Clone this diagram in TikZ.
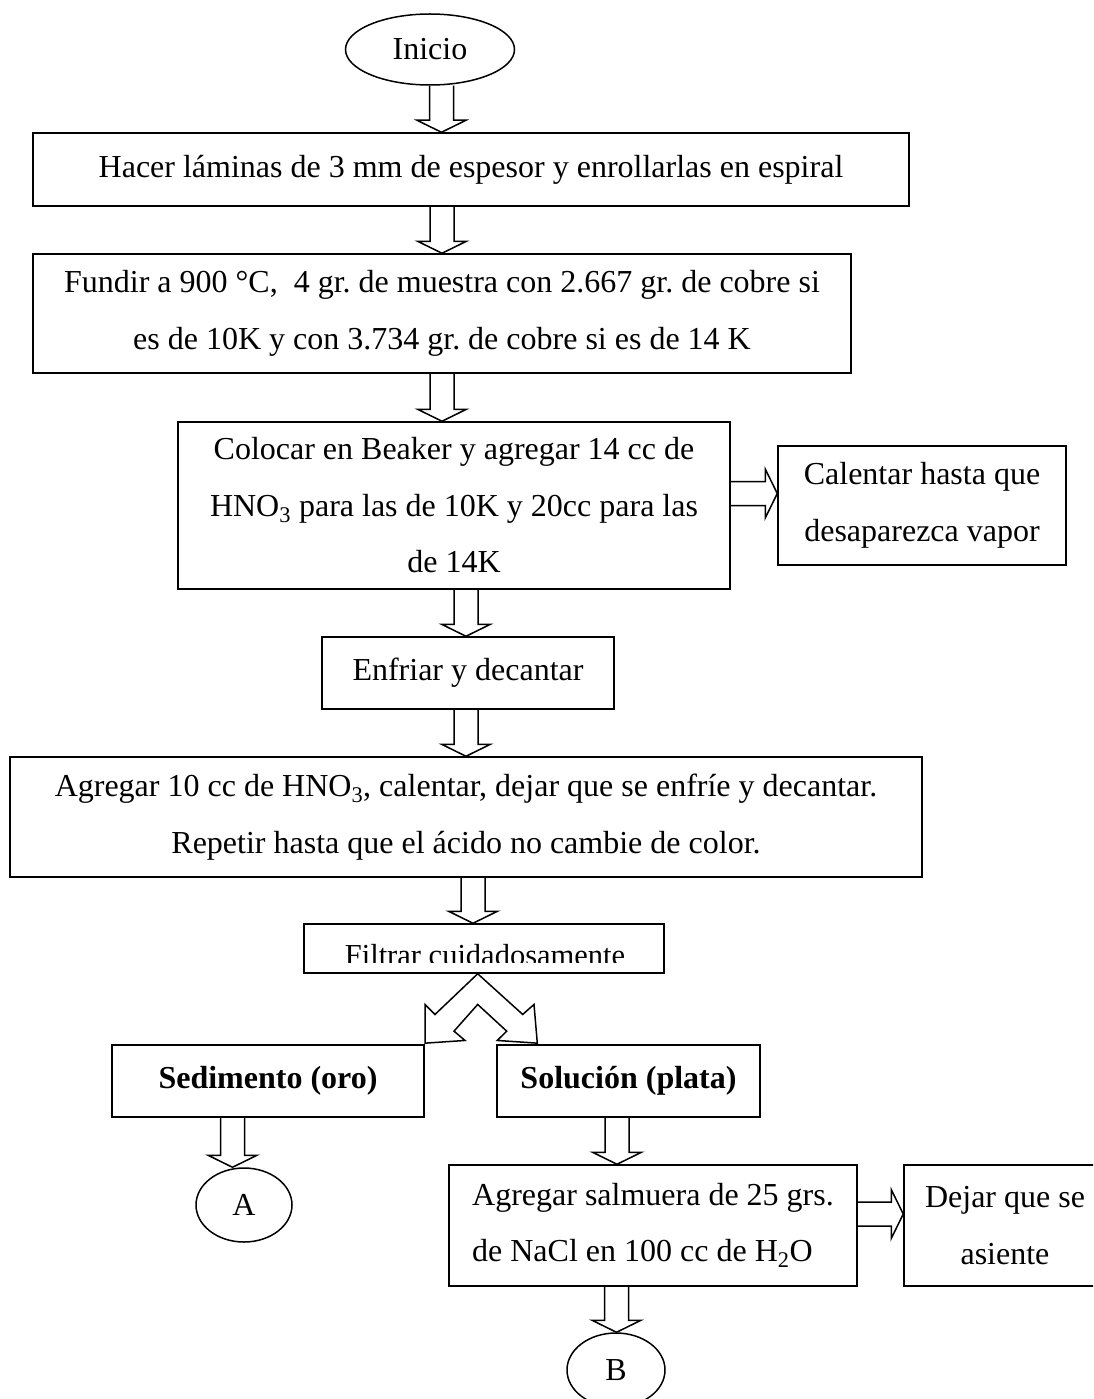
\documentclass[tikz,border=0pt]{standalone}
\usepackage{fontspec}
\setmainfont{Liberation Serif}
\usetikzlibrary{shapes.geometric,calc}
\frenchspacing
\begin{document}
\begin{tikzpicture}[x=1pt,y=-1pt,line join=miter,font=\fontsize{32}{56.5}\selectfont,
	box/.style={draw,line width=1.5pt,rectangle,inner sep=0pt,align=center},
	oval/.style={draw,line width=1.5pt,ellipse,inner sep=0pt},
	fat/.style={draw,line width=1.5pt}]
	\useasboundingbox (0,0) rectangle (1093,1399);
	\clip (0,0) rectangle (1093,1399);
	\node[oval,minimum width=169pt,minimum height=71pt] (ini) at (430,49.5) {Inicio};
	\node[box,minimum width=876pt,minimum height=73pt] (hacer) at (471,169.5) {Hacer láminas de 3 mm de espesor y enrollarlas en espiral};
	\node[box,minimum width=818pt,minimum height=119pt] (fundir) at (442,313.5) {Fundir a 900 °C,~ 4 gr. de muestra con 2.667 gr. de cobre si\\es de 10K y con 3.734 gr. de cobre si es de 14 K};
	\node[box,minimum width=552pt,minimum height=167pt] (colocar) at (454,505.5) {Colocar en Beaker y agregar 14 cc de\\HNO\textsubscript{3} para las de 10K y 20cc para las\\de 14K};
	\node[box,minimum width=288pt,minimum height=119pt] (calentar) at (922,505.5) {Calentar hasta que\\desaparezca vapor};
	\node[box,minimum width=292pt,minimum height=72pt] (enfriar) at (468,673) {Enfriar y decantar};
	\node[box,minimum width=912pt,minimum height=120pt] (agregar) at (466,817) {Agregar 10 cc de HNO\textsubscript{3}, calentar, dejar que se enfríe y decantar.\\Repetir hasta que el ácido no cambie de color.};
	\node[box,minimum width=360pt,minimum height=49pt] (filtrar) at (484,948.5) {};
	\begin{scope}
		\clip (filtrar.north west) rectangle (filtrar.east |- 0,962);
		\node[font=\fontsize{30.5}{36}\selectfont,anchor=base] (filtrartxt) at (485,965) {Filtrar cuidadosamente};
	\end{scope}
	\node[box,minimum width=312pt,minimum height=72pt] (sed) at (268,1081) {\textbf{Sedimento (oro)}};
	\node[box,minimum width=263pt,minimum height=72pt] (sol) at (628.5,1081) {\textbf{Solución (plata)}};
	\node[oval,minimum width=96pt,minimum height=74pt] (A) at (244,1205) {A};
	\node[box,minimum width=408pt,minimum height=121pt,align=left] (salm) at (653,1225.5) {Agregar salmuera de 25 grs.\\de NaCl en 100 cc de H\textsubscript{2}O};
	\node[box,minimum width=202pt,minimum height=121pt] (dejar) at (1005,1225.5) {Dejar que se\\asiente};
	\node[oval,minimum width=98pt,minimum height=74pt] (B) at (616,1370) {B};
	\foreach \xc/\src/\dst in {441.5/ini/hacer,442/hacer/fundir,442/fundir/colocar,466/colocar/enfriar,466/enfriar/agregar,473/agregar/filtrar,232.5/sed/A,617/sol/salm,616.5/salm/B}
		\draw[fat] let \p1=(\xc,0 |- \src.south), \p2=(\xc,0 |- \dst.north) in
		(\x1-12pt,\y1) -- (\x1-12pt,\y2+12pt) -- (\x1-24.5pt,\y2+12pt) -- (\x1,\y2) -- (\x1+24.5pt,\y2+12pt) -- (\x1+12pt,\y2+12pt) -- (\x1+12pt,\y1);
	\foreach \yc/\src/\dst in {493.5/colocar/calentar,1214/salm/dejar}
		\draw[fat] let \p1=(\src.east |- 0,\yc), \p2=(\dst.west |- 0,\yc) in
		(\x1,\y1+12pt) -- (\x2-12pt,\y1+12pt) -- (\x2-12pt,\y1+24.5pt) -- (\x2,\y1) -- (\x2-12pt,\y1-24.5pt) -- (\x2-12pt,\y1-12pt) -- (\x1,\y1-12pt);
	\draw[fat] ([xshift=-6.3pt]filtrar.south) coordinate (apex) -- +(45,40.7) -- +(56.3,30.7) -- +(59.6,69.4) -- +(19.6,66.7) -- +(29,57.4) -- +(0,30.7) -- +(-23.7,57.4) -- +(-12.7,66.7) -- +(-52.7,69.4) -- +(-52.7,30.7) -- +(-42.7,40.7) -- cycle;
\end{tikzpicture}
\end{document}
